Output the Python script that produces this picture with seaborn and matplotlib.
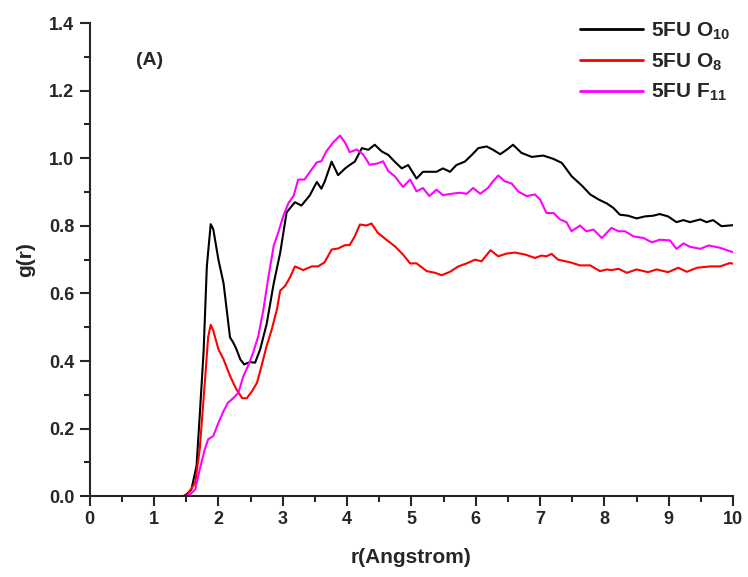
import numpy as np
import pandas as pd
import matplotlib
matplotlib.use("Agg")
import matplotlib.pyplot as plt
from matplotlib.ticker import MultipleLocator
import seaborn as sns

# g(r) 데이터
r_o10 = [0.0, 1.45, 1.50, 1.58, 1.66, 1.71, 1.77, 1.82, 1.88, 1.92, 2.00, 2.08, 2.13, 2.18, 2.23,
         2.28, 2.34, 2.40, 2.49, 2.57, 2.65, 2.75, 2.86, 2.96, 3.06, 3.19, 3.29, 3.42, 3.53, 3.60,
         3.65, 3.76, 3.86, 3.97, 4.04, 4.12, 4.23, 4.33, 4.43, 4.54, 4.64, 4.74, 4.85, 4.95, 5.08,
         5.18, 5.29, 5.39, 5.49, 5.60, 5.70, 5.83, 5.94, 6.04, 6.17, 6.27, 6.38, 6.48, 6.58, 6.71,
         6.87, 7.05, 7.21, 7.34, 7.49, 7.65, 7.78, 7.91, 8.04, 8.14, 8.24, 8.37, 8.50, 8.63, 8.76,
         8.86, 8.99, 9.12, 9.23, 9.33, 9.49, 9.59, 9.69, 9.82, 10.0]
g_o10 = [0.0, 0.0, 0.005, 0.02, 0.09, 0.24, 0.43, 0.68, 0.805, 0.79, 0.70, 0.63, 0.55, 0.47, 0.455,
         0.435, 0.405, 0.39, 0.397, 0.395, 0.435, 0.51, 0.63, 0.72, 0.84, 0.87, 0.86, 0.89, 0.93, 0.91,
         0.93, 0.99, 0.95, 0.97, 0.98, 0.99, 1.03, 1.025, 1.04, 1.02, 1.01, 0.99, 0.97, 0.98, 0.94,
         0.96, 0.96, 0.96, 0.97, 0.96, 0.98, 0.99, 1.01, 1.03, 1.035, 1.025, 1.012, 1.025, 1.04, 1.016,
         1.004, 1.008, 0.998, 0.986, 0.947, 0.919, 0.893, 0.878, 0.866, 0.853, 0.833, 0.830, 0.822, 0.828, 0.830,
         0.835, 0.828, 0.811, 0.817, 0.811, 0.819, 0.811, 0.817, 0.799, 0.802]

r_o8 = [0.0, 1.46, 1.51, 1.64, 1.71, 1.79, 1.84, 1.88, 1.92, 2.00, 2.08, 2.18, 2.28, 2.37, 2.44,
        2.52, 2.60, 2.67, 2.75, 2.83, 2.91, 2.96, 3.04, 3.11, 3.19, 3.32, 3.45, 3.55, 3.65, 3.76,
        3.86, 3.97, 4.04, 4.12, 4.20, 4.30, 4.38, 4.48, 4.61, 4.74, 4.87, 4.98, 5.08, 5.24, 5.37,
        5.47, 5.60, 5.73, 5.86, 5.99, 6.09, 6.23, 6.35, 6.48, 6.61, 6.77, 6.92, 7.02, 7.10, 7.18,
        7.28, 7.47, 7.62, 7.78, 7.93, 8.04, 8.11, 8.22, 8.35, 8.50, 8.68, 8.81, 8.99, 9.15, 9.28,
        9.44, 9.64, 9.80, 9.95, 10.0]
g_o8 = [0.0, 0.0, 0.003, 0.04, 0.14, 0.34, 0.47, 0.507, 0.49, 0.435, 0.405, 0.356, 0.316, 0.29, 0.29,
        0.31, 0.336, 0.385, 0.445, 0.494, 0.553, 0.608, 0.623, 0.647, 0.68, 0.669, 0.68, 0.68, 0.692, 0.73,
        0.733, 0.743, 0.743, 0.769, 0.804, 0.801, 0.807, 0.779, 0.759, 0.740, 0.715, 0.689, 0.689, 0.666, 0.661,
        0.654, 0.664, 0.680, 0.689, 0.700, 0.695, 0.728, 0.710, 0.718, 0.721, 0.715, 0.705, 0.712, 0.710, 0.717,
        0.700, 0.692, 0.683, 0.683, 0.666, 0.671, 0.669, 0.673, 0.661, 0.671, 0.663, 0.671, 0.663, 0.676, 0.664,
        0.676, 0.680, 0.680, 0.690, 0.688]

r_f11 = [0.0, 1.50, 1.55, 1.64, 1.71, 1.79, 1.84, 1.92, 2.00, 2.08, 2.15, 2.23, 2.31, 2.39, 2.47,
         2.54, 2.62, 2.70, 2.78, 2.86, 2.93, 3.01, 3.09, 3.17, 3.24, 3.34, 3.42, 3.53, 3.60, 3.68,
         3.78, 3.89, 3.97, 4.04, 4.15, 4.25, 4.35, 4.46, 4.56, 4.64, 4.74, 4.87, 4.98, 5.08, 5.18,
         5.28, 5.39, 5.49, 5.63, 5.75, 5.86, 5.96, 6.07, 6.19, 6.27, 6.35, 6.45, 6.56, 6.66, 6.79,
         6.92, 7.00, 7.10, 7.21, 7.31, 7.41, 7.49, 7.62, 7.72, 7.83, 7.96, 8.11, 8.22, 8.32, 8.45,
         8.61, 8.74, 8.86, 9.02, 9.12, 9.23, 9.33, 9.49, 9.62, 9.80, 10.0]
g_f11 = [0.0, 0.0, 0.004, 0.02, 0.08, 0.14, 0.168, 0.178, 0.217, 0.252, 0.277, 0.29, 0.306, 0.356, 0.39,
         0.425, 0.474, 0.553, 0.652, 0.741, 0.78, 0.83, 0.868, 0.889, 0.937, 0.937, 0.959, 0.988, 0.991, 1.021,
         1.046, 1.067, 1.046, 1.018, 1.026, 1.011, 0.981, 0.984, 0.991, 0.962, 0.947, 0.915, 0.937, 0.902, 0.912,
         0.888, 0.907, 0.891, 0.895, 0.898, 0.895, 0.912, 0.895, 0.912, 0.932, 0.949, 0.932, 0.925, 0.902, 0.888,
         0.893, 0.878, 0.838, 0.838, 0.819, 0.811, 0.784, 0.801, 0.784, 0.789, 0.764, 0.794, 0.784, 0.784, 0.769,
         0.764, 0.751, 0.759, 0.757, 0.732, 0.748, 0.738, 0.732, 0.742, 0.735, 0.722]

labels = [r"5FU O$_{10}$", r"5FU O$_{8}$", r"5FU F$_{11}$"]
colors = ["black", "red", "magenta"]

df = pd.concat([
    pd.DataFrame({"r": r_o10, "g": g_o10, "site": labels[0]}),
    pd.DataFrame({"r": r_o8, "g": g_o8, "site": labels[1]}),
    pd.DataFrame({"r": r_f11, "g": g_f11, "site": labels[2]}),
], ignore_index=True)

sns.set_style("ticks")
plt.rcParams["font.family"] = ["Liberation Sans", "DejaVu Sans"]
plt.rcParams["font.weight"] = "bold"
plt.rcParams["mathtext.fontset"] = "custom"
plt.rcParams["mathtext.rm"] = "Liberation Sans:bold"
plt.rcParams["mathtext.it"] = "Liberation Sans:bold"
plt.rcParams["mathtext.bf"] = "Liberation Sans:bold"

fig = plt.figure(figsize=(7.48, 5.77), dpi=100)
ax = fig.add_axes([0.120, 0.140, 0.860, 0.820])

sns.lineplot(data=df, x="r", y="g", hue="site", palette=dict(zip(labels, colors)),
             estimator=None, sort=False, linewidth=1.5, ax=ax)

ax.set_xlim(0, 10)
ax.set_ylim(0, 1.4)
ax.xaxis.set_major_locator(MultipleLocator(1))
ax.xaxis.set_minor_locator(MultipleLocator(0.5))
ax.yaxis.set_major_locator(MultipleLocator(0.2))
ax.yaxis.set_minor_locator(MultipleLocator(0.1))
ax.set_yticks(np.arange(0, 1.41, 0.2))
ax.set_yticklabels([f"{v:.1f}" for v in np.arange(0, 1.41, 0.2)])
ax.tick_params(which="major", direction="out", length=7, width=1.5, labelsize=13, pad=4)
ax.tick_params(which="minor", direction="out", length=4, width=1.5)
for lab in ax.get_xticklabels() + ax.get_yticklabels():
    lab.set_fontweight("bold")

sns.despine(ax=ax)
for s in ["left", "bottom"]:
    ax.spines[s].set_linewidth(1.5)

ax.set_xlabel("r(Angstrom)", fontsize=15, fontweight="bold", labelpad=14)
ax.set_ylabel("g(r)", fontsize=15, fontweight="bold", labelpad=10)

ax.text(0.93, 1.29, "(A)", fontsize=14, fontweight="bold", ha="center", va="center")

leg = ax.legend(loc="upper right", bbox_to_anchor=(1.025, 1.045), frameon=False, fontsize=15,
                handlelength=3.0, handletextpad=0.4, labelspacing=0.45)
for line in leg.get_lines():
    line.set_linewidth(2.0)

fig.savefig("out.png", dpi=100)
